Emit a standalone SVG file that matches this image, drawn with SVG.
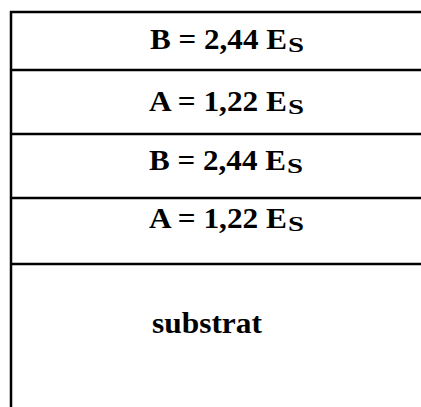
<svg xmlns="http://www.w3.org/2000/svg" width="421" height="407" viewBox="0 0 421 407">
<style>
.ln{stroke:#000;stroke-width:2.5;fill:none}
.t{font-family:"Liberation Serif","Times New Roman",serif;font-weight:bold;font-size:29px;fill:#000}
.s{font-family:"Liberation Serif","Times New Roman",serif;font-weight:bold;font-size:20px;fill:#000}
</style>
<rect width="421" height="407" fill="#fff"/>
<g id="frame">
<line class="ln" x1="11" y1="11" x2="11" y2="407"/>
<line class="ln" x1="10" y1="12" x2="421" y2="12"/>
<line class="ln" x1="10" y1="70" x2="421" y2="70"/>
<line class="ln" x1="10" y1="134" x2="421" y2="134"/>
<line class="ln" x1="10" y1="198" x2="421" y2="198"/>
<line class="ln" x1="10" y1="264" x2="421" y2="264"/>
</g>
<g id="layer1">
<text class="t" x="150" y="49" textLength="137" lengthAdjust="spacingAndGlyphs">B = 2,44 E</text>
<text class="s" x="288" y="52" textLength="16" lengthAdjust="spacingAndGlyphs">S</text>
</g>
<g id="layer2">
<text class="t" x="149" y="111" textLength="138" lengthAdjust="spacingAndGlyphs">A = 1,22 E</text>
<text class="s" x="288" y="114" textLength="16" lengthAdjust="spacingAndGlyphs">S</text>
</g>
<g id="layer3">
<text class="t" x="149" y="170" textLength="137" lengthAdjust="spacingAndGlyphs">B = 2,44 E</text>
<text class="s" x="287" y="173" textLength="16" lengthAdjust="spacingAndGlyphs">S</text>
</g>
<g id="layer4">
<text class="t" x="149" y="228" textLength="138" lengthAdjust="spacingAndGlyphs">A = 1,22 E</text>
<text class="s" x="288" y="231" textLength="16" lengthAdjust="spacingAndGlyphs">S</text>
</g>
<g id="substrate">
<text class="t" x="152" y="333" textLength="110" lengthAdjust="spacingAndGlyphs">substrat</text>
</g>
</svg>
